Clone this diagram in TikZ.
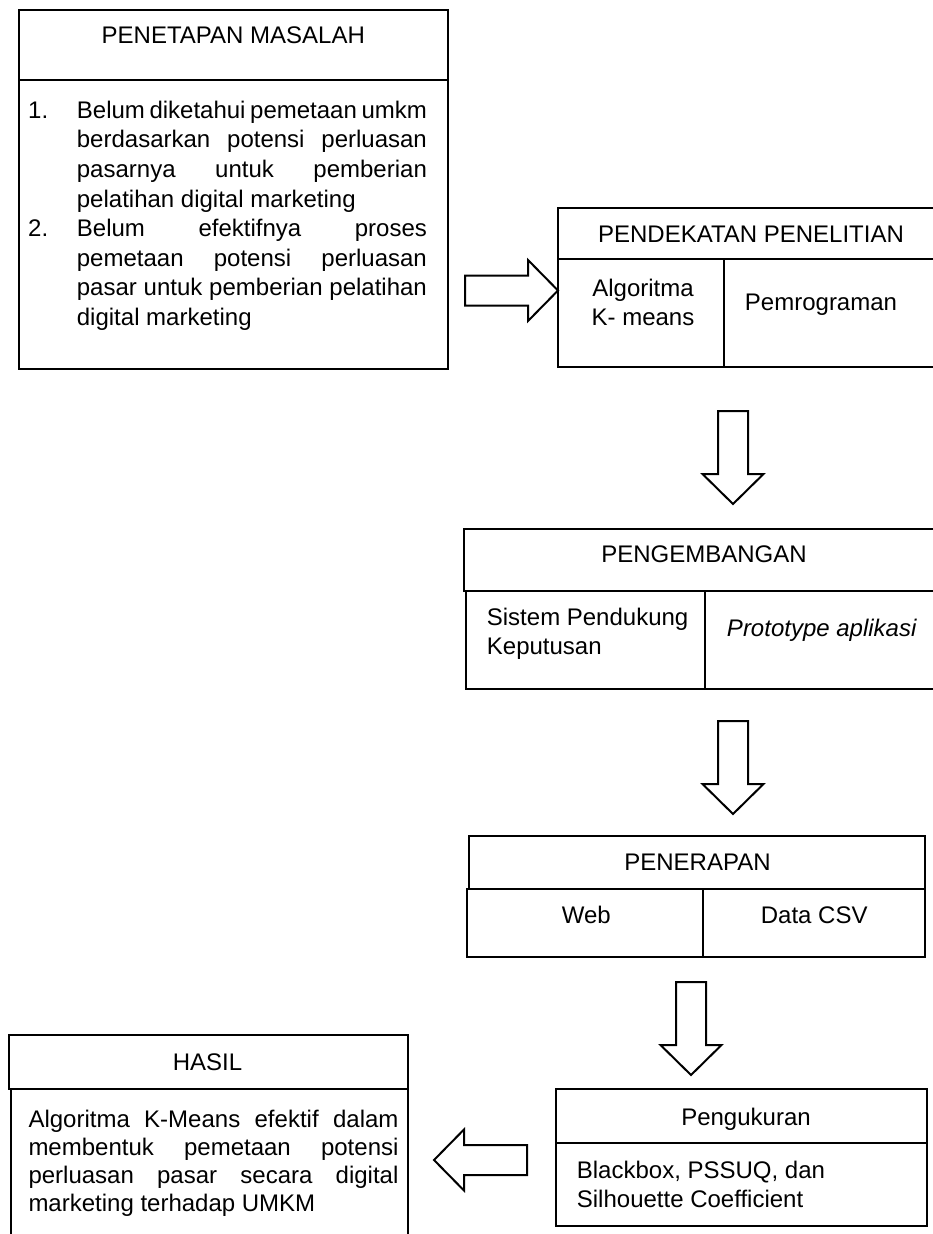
\documentclass[tikz,border=0pt]{standalone}
\usepackage{fontspec}
\setmainfont{Liberation Sans}
% a line of a justified paragraph, stretched to the given width
\newcommand\fitline[2]{\makebox[#1][s]{#2}}

\begin{document}
\begin{tikzpicture}[x=1pt,y=-1pt,
  frame/.style={draw, line width=2.2pt, inner sep=0pt, outer sep=0pt, anchor=north west},
  txt/.style={inner sep=0pt, font=\fontsize{24}{29.5}\selectfont},
  blockarrow/.pic={\draw[line width=2pt, line join=miter]
      (0,-15) -- (63,-15) -- (63,-30.5) -- (93,0) -- (63,30.5) -- (63,15) -- (0,15) -- cycle;}
]
\useasboundingbox (0,0) rectangle (933,1234);

% ---- PENETAPAN MASALAH ----
\node[frame, minimum width=429pt, minimum height=70pt]  (masalah-head) at (19,10) {};
\node[frame, minimum width=429pt, minimum height=289pt] (masalah-body) at (19,80) {};
\node[txt, anchor=base] (masalah-title) at (233.3,43) {PENETAPAN MASALAH};
\node[txt, anchor=base west] (num1) at (28,118.3) {1.};
\node[txt, anchor=base west] (num2) at (28,236.6) {2.};
\foreach \ln [count=\i from 0] in {
    {\fitline{350pt}{Belum diketahui pemetaan umkm}},
    {\fitline{350pt}{berdasarkan potensi perluasan}},
    {\fitline{350pt}{pasarnya untuk pemberian}},
    {pelatihan digital marketing},
    {\fitline{350pt}{Belum efektifnya proses}},
    {\fitline{350pt}{pemetaan potensi perluasan}},
    {\fitline{350pt}{pasar untuk pemberian pelatihan}},
    {digital marketing}}
  \node[txt, anchor=base west] (masalah-line\i) at (76.7,{118.3+29.57*\i}) {\ln};

% ---- PENDEKATAN PENELITIAN ----
\node[frame, minimum width=377pt, minimum height=51pt]  (pendekatan-head)  at (558,208) {};
\node[frame, minimum width=166pt, minimum height=108pt] (pendekatan-left)  at (558,259) {};
\node[frame, minimum width=211pt, minimum height=108pt] (pendekatan-right) at (724,259) {};
\node[txt, anchor=base] (pendekatan-title) at (751,242) {PENDEKATAN PENELITIAN};
\node[txt, anchor=base] (kmeans1) at (643,296) {Algoritma};
\node[txt, anchor=base] (kmeans2) at (643,325) {K- means};
\node[txt, anchor=base] (pemrograman) at (821,310) {Pemrograman};

% ---- PENGEMBANGAN ----
\node[frame, minimum width=471pt, minimum height=62pt] (pengembangan-head)  at (464,529) {};
\node[frame, minimum width=239pt, minimum height=98pt] (pengembangan-left)  at (466,591) {};
\node[frame, minimum width=230pt, minimum height=98pt] (pengembangan-right) at (705,591) {};
\node[txt, anchor=base] (pengembangan-title) at (704,562) {PENGEMBANGAN};
\node[txt, anchor=base west] (spk1) at (486.7,625) {Sistem Pendukung};
\node[txt, anchor=base west] (spk2) at (486.7,654) {Keputusan};
\node[txt, anchor=base] (prototype) at (821.7,636.7) {\itshape Prototype aplikasi};

% ---- PENERAPAN ----
\node[frame, minimum width=456pt, minimum height=53pt] (penerapan-head)  at (469,836) {};
\node[frame, minimum width=236pt, minimum height=68pt] (penerapan-left)  at (467,889) {};
\node[frame, minimum width=222pt, minimum height=68pt] (penerapan-right) at (703,889) {};
\node[txt, anchor=base] (penerapan-title) at (697.5,870) {PENERAPAN};
\node[txt, anchor=base] (web) at (586.3,923) {Web};
\node[txt, anchor=base] (csv) at (814.2,923) {Data CSV};

% ---- Pengukuran ----
\node[frame, minimum width=371pt, minimum height=54pt] (pengukuran-head) at (556,1089) {};
\node[frame, minimum width=371pt, minimum height=83pt] (pengukuran-body) at (556,1143) {};
\node[txt, anchor=base] (pengukuran-title) at (746,1125) {Pengukuran};
\node[txt, anchor=base west] (ukur1) at (576.7,1178) {Blackbox, PSSUQ, dan};
\node[txt, anchor=base west] (ukur2) at (576.7,1207) {Silhouette Coefficient};

% ---- HASIL ----
\node[frame, minimum width=399pt, minimum height=54pt]  (hasil-head) at (9,1035) {};
\node[frame, minimum width=397pt, minimum height=200pt] (hasil-body) at (11,1089) {};
\node[txt, anchor=base] (hasil-title) at (207.5,1070) {HASIL};
\foreach \ln [count=\i from 0] in {
    {\fitline{370pt}{Algoritma K-Means efektif dalam}},
    {\fitline{370pt}{membentuk pemetaan potensi}},
    {\fitline{370pt}{perluasan pasar secara digital}},
    {marketing terhadap UMKM}}
  \node[txt, anchor=base west] (hasil-line\i) at (28.3,{1127+28.2*\i}) {\ln};

% ---- block arrows between the stages ----
\pic at (465,290.5) {blockarrow};
\pic[rotate=-90] at (733,411) {blockarrow};
\pic[rotate=-90] at (733,721) {blockarrow};
\pic[rotate=-90] at (691,982) {blockarrow};
\pic[rotate=180] at (527,1160) {blockarrow};
\end{tikzpicture}
\end{document}
